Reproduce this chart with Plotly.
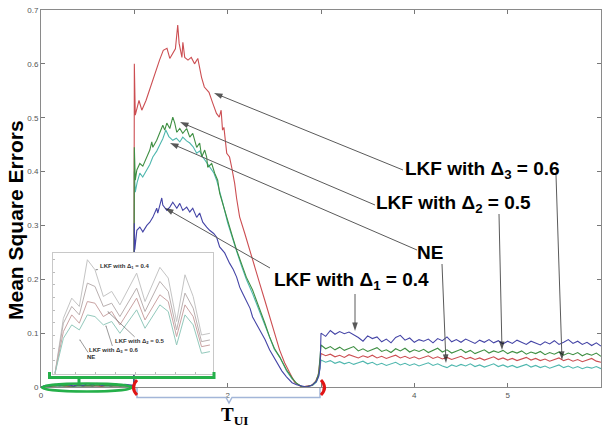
import plotly.graph_objects as go

# ---------------- data ----------------
pre_t = [0.0, 0.05, 0.10, 0.15, 0.20, 0.25, 0.30, 0.35, 0.40, 0.45, 0.50,
         0.55, 0.60, 0.65, 0.70, 0.75, 0.80, 0.85, 0.90, 0.95, 0.995]
tail_t = [3.00, 3.05, 3.10, 3.15, 3.20, 3.25, 3.30, 3.35, 3.40, 3.45,
          3.50, 3.55, 3.60, 3.65, 3.70, 3.75, 3.80, 3.85, 3.90, 3.95,
          4.00, 4.05, 4.10, 4.15, 4.20, 4.25, 4.30, 4.35, 4.40, 4.45,
          4.50, 4.55, 4.60, 4.65, 4.70, 4.75, 4.80, 4.85, 4.90, 4.95,
          5.00, 5.05, 5.10, 5.15, 5.20, 5.25, 5.30, 5.35, 5.40, 5.45,
          5.50, 5.55, 5.60, 5.65, 5.70, 5.75, 5.80, 5.85, 5.90, 5.95, 6.00]

# LKF with Delta1 = 0.4 (blue)
blue_pre = [0.000, 0.003, 0.002, 0.005, 0.003, 0.006, 0.004, 0.002, 0.005, 0.003, 0.006,
            0.004, 0.007, 0.003, 0.005, 0.004, 0.006, 0.003, 0.005, 0.004, 0.003]
blue_hx = [1.00, 1.005, 1.027, 1.059, 1.091, 1.134, 1.166, 1.198, 1.24, 1.251,
           1.294, 1.305, 1.348, 1.38, 1.412, 1.455, 1.487, 1.519, 1.561, 1.594,
           1.626, 1.668, 1.70, 1.733, 1.775, 1.807, 1.85, 1.882, 1.914, 1.968,
           2.02, 2.06, 2.096, 2.13, 2.16, 2.214, 2.24, 2.267, 2.30, 2.342,
           2.40, 2.449, 2.50, 2.535, 2.58, 2.63, 2.69, 2.738, 2.80, 2.845,
           2.90, 2.95, 2.975, 2.99]
blue_hy = [0.304, 0.255, 0.291, 0.297, 0.288, 0.300, 0.306, 0.315, 0.332, 0.323,
           0.351, 0.338, 0.328, 0.334, 0.343, 0.332, 0.341, 0.328, 0.334, 0.325,
           0.332, 0.315, 0.323, 0.306, 0.297, 0.291, 0.285, 0.278, 0.260, 0.249,
           0.230, 0.218, 0.204, 0.185, 0.174, 0.156, 0.146, 0.130, 0.120, 0.106,
           0.088, 0.069, 0.054, 0.045, 0.030, 0.019, 0.008, 0.004, 0.001, 0.000,
           0.003, 0.010, 0.020, 0.035]
blue_tail = [0.100, 0.094, 0.105, 0.098, 0.103, 0.099, 0.102, 0.097, 0.092, 0.085,
             0.095, 0.090, 0.093, 0.084, 0.089, 0.082, 0.092, 0.096, 0.087, 0.091,
             0.083, 0.088, 0.085, 0.089, 0.082, 0.090, 0.086, 0.093, 0.084, 0.088,
             0.083, 0.089, 0.085, 0.081, 0.087, 0.083, 0.088, 0.082, 0.086, 0.080,
             0.085, 0.081, 0.087, 0.083, 0.079, 0.085, 0.082, 0.078, 0.084, 0.080,
             0.086, 0.079, 0.083, 0.088, 0.081, 0.085, 0.079, 0.083, 0.077, 0.082, 0.076]

# LKF with Delta2 = 0.5 (green)
green_pre = [0.000, 0.002, 0.001, 0.003, 0.002, 0.003, 0.002, 0.001, 0.003, 0.002, 0.003,
             0.002, 0.004, 0.002, 0.003, 0.002, 0.003, 0.002, 0.003, 0.002, 0.002]
green_hx = [1.00, 1.01, 1.027, 1.059, 1.091, 1.134, 1.166, 1.187, 1.198, 1.24,
            1.273, 1.305, 1.326, 1.348, 1.38, 1.412, 1.433, 1.455, 1.487, 1.519,
            1.561, 1.594, 1.626, 1.668, 1.70, 1.722, 1.754, 1.775, 1.786, 1.829,
            1.861, 1.893, 1.914, 1.95, 1.98, 2.02, 2.05, 2.096, 2.15, 2.2,
            2.267, 2.30, 2.342, 2.40, 2.449, 2.50, 2.556, 2.63, 2.69, 2.738,
            2.80, 2.86, 2.91, 2.95, 2.975]
green_hy = [0.445, 0.384, 0.403, 0.415, 0.410, 0.427, 0.440, 0.455, 0.445, 0.458,
            0.471, 0.486, 0.477, 0.490, 0.480, 0.501, 0.490, 0.473, 0.480, 0.471,
            0.480, 0.464, 0.471, 0.445, 0.453, 0.427, 0.440, 0.427, 0.408, 0.415,
            0.397, 0.384, 0.360, 0.338, 0.322, 0.297, 0.280, 0.254, 0.228, 0.204,
            0.180, 0.165, 0.143, 0.118, 0.093, 0.072, 0.056, 0.032, 0.017, 0.007,
            0.000, 0.001, 0.004, 0.012, 0.025]
green_tail = [0.078, 0.071, 0.075, 0.069, 0.074, 0.068, 0.072, 0.075, 0.067, 0.071,
              0.066, 0.070, 0.073, 0.066, 0.069, 0.064, 0.071, 0.067, 0.072, 0.065,
              0.069, 0.066, 0.070, 0.064, 0.068, 0.072, 0.065, 0.069, 0.063, 0.067,
              0.070, 0.064, 0.068, 0.062, 0.066, 0.069, 0.063, 0.067, 0.064, 0.068,
              0.062, 0.066, 0.063, 0.067, 0.061, 0.065, 0.062, 0.066, 0.060, 0.064,
              0.061, 0.065, 0.059, 0.063, 0.060, 0.064, 0.058, 0.062, 0.059, 0.063, 0.057]

# LKF with Delta3 = 0.6 (red)
red_pre = [0.000, 0.002, 0.001, 0.002, 0.003, 0.002, 0.001, 0.002, 0.003, 0.002, 0.002,
           0.003, 0.002, 0.001, 0.003, 0.002, 0.002, 0.003, 0.002, 0.002, 0.002]
red_hx = [1.00, 1.01, 1.05, 1.08, 1.125, 1.16, 1.20, 1.24, 1.27, 1.31,
          1.35, 1.38, 1.41, 1.44, 1.465, 1.48, 1.51, 1.52, 1.54, 1.575,
          1.61, 1.645, 1.68, 1.72, 1.75, 1.80, 1.84, 1.88, 1.91, 1.93,
          1.945, 1.96, 1.99, 2.02, 2.043, 2.075, 2.096, 2.128, 2.182, 2.235,
          2.289, 2.342, 2.396, 2.45, 2.503, 2.556, 2.61, 2.663, 2.717, 2.79,
          2.85, 2.90, 2.94, 2.97]
red_hy = [0.600, 0.505, 0.532, 0.514, 0.532, 0.551, 0.570, 0.594, 0.607, 0.625,
          0.629, 0.610, 0.620, 0.628, 0.672, 0.638, 0.612, 0.640, 0.612, 0.607,
          0.612, 0.600, 0.610, 0.575, 0.557, 0.547, 0.527, 0.508, 0.501, 0.514,
          0.477, 0.482, 0.434, 0.427, 0.408, 0.378, 0.350, 0.316, 0.286, 0.254,
          0.223, 0.193, 0.162, 0.130, 0.100, 0.069, 0.045, 0.026, 0.009, 0.000,
          0.001, 0.003, 0.010, 0.022]
red_tail = [0.062, 0.058, 0.061, 0.056, 0.059, 0.055, 0.060, 0.057, 0.054, 0.058,
            0.055, 0.059, 0.054, 0.057, 0.053, 0.056, 0.059, 0.054, 0.057, 0.053,
            0.056, 0.052, 0.055, 0.058, 0.053, 0.056, 0.052, 0.055, 0.051, 0.054,
            0.057, 0.052, 0.055, 0.051, 0.054, 0.050, 0.053, 0.056, 0.051, 0.054,
            0.050, 0.053, 0.049, 0.052, 0.055, 0.050, 0.053, 0.049, 0.052, 0.048,
            0.051, 0.054, 0.049, 0.052, 0.048, 0.051, 0.047, 0.050, 0.053, 0.048, 0.046]

# NE (cyan)
cyan_pre = [0.000, 0.001, 0.002, 0.001, 0.002, 0.001, 0.002, 0.001, 0.002, 0.001, 0.002,
            0.001, 0.002, 0.001, 0.002, 0.001, 0.002, 0.001, 0.002, 0.001, 0.001]
cyan_hx = [1.00, 1.01, 1.03, 1.059, 1.09, 1.134, 1.166, 1.198, 1.24, 1.273,
           1.305, 1.337, 1.37, 1.412, 1.45, 1.487, 1.519, 1.56, 1.594, 1.63,
           1.668, 1.70, 1.733, 1.77, 1.807, 1.85, 1.882, 1.914, 1.95, 2.00,
           2.05, 2.10, 2.15, 2.20, 2.27, 2.34, 2.40, 2.45, 2.50, 2.56,
           2.63, 2.69, 2.74, 2.80, 2.86, 2.91, 2.95, 2.975]
cyan_hy = [0.400, 0.362, 0.380, 0.397, 0.390, 0.402, 0.413, 0.427, 0.438, 0.450,
           0.461, 0.477, 0.465, 0.458, 0.462, 0.455, 0.464, 0.457, 0.453, 0.446,
           0.434, 0.438, 0.427, 0.418, 0.408, 0.398, 0.384, 0.365, 0.340, 0.305,
           0.276, 0.250, 0.224, 0.200, 0.172, 0.140, 0.113, 0.090, 0.070, 0.055,
           0.030, 0.015, 0.006, 0.000, 0.001, 0.003, 0.009, 0.020]
cyan_tail = [0.050, 0.046, 0.049, 0.044, 0.047, 0.043, 0.046, 0.042, 0.045, 0.048,
             0.043, 0.046, 0.041, 0.044, 0.040, 0.043, 0.046, 0.041, 0.044, 0.040,
             0.043, 0.039, 0.042, 0.045, 0.040, 0.043, 0.039, 0.036, 0.041, 0.038,
             0.042, 0.039, 0.043, 0.038, 0.041, 0.037, 0.040, 0.043, 0.038, 0.041,
             0.037, 0.040, 0.036, 0.039, 0.042, 0.037, 0.040, 0.036, 0.039, 0.035,
             0.038, 0.041, 0.036, 0.039, 0.035, 0.038, 0.034, 0.037, 0.035, 0.038, 0.034]

# inset (zoom of 0..1, values normalised)
inset_t = [0.0, 0.054, 0.108, 0.157, 0.209, 0.258, 0.312, 0.366, 0.419,
           0.527, 0.581, 0.677, 0.731, 0.785, 0.839, 0.892, 0.946, 1.0]
inset_d1 = [0, 0.458, 0.625, 0.556, 0.944, 0.861, 0.639, 0.681, 0.569,
            0.833, 0.597, 0.881, 0.792, 0.431, 0.819, 0.639, 0.319, 0.333]
inset_d2 = [0, 0.417, 0.556, 0.486, 0.750, 0.722, 0.556, 0.583, 0.472,
            0.708, 0.514, 0.764, 0.681, 0.361, 0.667, 0.542, 0.264, 0.278]
inset_d3 = [0, 0.347, 0.486, 0.417, 0.597, 0.583, 0.472, 0.514, 0.403,
            0.625, 0.444, 0.653, 0.597, 0.306, 0.569, 0.472, 0.222, 0.236]
inset_ne = [0, 0.292, 0.403, 0.361, 0.486, 0.472, 0.403, 0.431, 0.333,
            0.528, 0.375, 0.569, 0.514, 0.236, 0.486, 0.403, 0.167, 0.181]

x_ticks = [0, 2, 4, 5]
x_ticktext = ['0', '2', '4', '5']
x_minor_ticks = [1, 3, 6]
y_ticks = [0, 0.1, 0.2, 0.3, 0.4, 0.5, 0.6, 0.7]
y_ticktext = ['0', '0.1', '0.2', '0.3', '0.4', '0.5', '0.6', '0.7']

# ---------------- layout geometry ----------------
W, H = 602, 430
ML, MR, MT, MB = 41, 1, 10, 43
PW, PH = W - ML - MR, H - MT - MB
XR, YR = [0, 6], [0, 0.7]


def px(p):
    return (p - ML) / PW


def py(p):
    return (H - MB - p) / PH


def dx(p):
    return XR[0] + px(p) * (XR[1] - XR[0])


def dy(p):
    return YR[0] + py(p) * (YR[1] - YR[0])


C_BLUE = '#4444a6'
C_GREEN = '#3f8f43'
C_RED = '#cc4e52'
C_CYAN = '#4fb7ae'

fig = go.Figure()

series = [
    ('NE', cyan_pre, cyan_hx, cyan_hy, cyan_tail, C_CYAN),
    ('LKF d3', red_pre, red_hx, red_hy, red_tail, C_RED),
    ('LKF d2', green_pre, green_hx, green_hy, green_tail, C_GREEN),
    ('LKF d1', blue_pre, blue_hx, blue_hy, blue_tail, C_BLUE),
]
for name, pre, hx, hy, tail, col in series:
    fig.add_trace(go.Scatter(
        x=pre_t + hx + tail_t, y=pre + hy + tail, mode='lines', name=name,
        line=dict(color=col, width=1.1), showlegend=False, hoverinfo='skip'))

# annotation arrows (tail -> head), positions in screen pixels
arrows = [
    ((403, 170), (214, 93)), ((556, 175), (562, 360)),
    ((375, 205), (180, 122)), ((499, 214), (502, 350)),
    ((417, 250), (170, 143)), ((442, 264), (446, 363)),
    ((270, 268), (165, 208)), ((355, 294), (355, 331)),
]
for (tx_, ty_), (hx_, hy_) in arrows:
    fig.add_trace(go.Scatter(
        x=[dx(tx_), dx(hx_)], y=[dy(ty_), dy(hy_)], mode='lines+markers',
        line=dict(color='#5a5a5a', width=1),
        marker=dict(symbol='arrow', size=[0, 9], color='#111', angleref='previous',
                    line=dict(width=0)),
        showlegend=False, hoverinfo='skip'))

inset_cols = ['#c4c4c4', '#b9b0b0', '#c9a3a3', '#93c9bc']
for ys, col in zip([inset_d1, inset_d2, inset_d3, inset_ne], inset_cols):
    fig.add_trace(go.Scatter(x=inset_t, y=ys, mode='lines', xaxis='x2', yaxis='y2',
                             line=dict(color=col, width=1), showlegend=False,
                             hoverinfo='skip'))

axis_common = dict(showline=True, linecolor='#8a8a8a', linewidth=1, mirror='ticks',
                   ticks='inside', ticklen=4, tickcolor='#777', showgrid=False,
                   zeroline=False, tickfont=dict(family='Liberation Sans, Arial', size=8,
                                                 color='#555'))
fig.update_layout(
    width=W, height=H,
    margin=dict(l=ML, r=MR, t=MT, b=MB),
    paper_bgcolor='white', plot_bgcolor='white',
    xaxis=dict(range=XR, domain=[0, 1], tickvals=x_ticks, ticktext=x_ticktext,
               minor=dict(tickvals=x_minor_ticks, ticks='inside', ticklen=4,
                          tickcolor='#777', showgrid=False),
               **axis_common),
    yaxis=dict(range=YR, domain=[0, 1], tickvals=y_ticks, ticktext=y_ticktext,
               **axis_common),
    xaxis2=dict(domain=[px(53), px(213)], anchor='y2', range=[-0.013, 1.02],
                showline=True, linecolor='#c8c8c8', mirror=True, ticks='inside',
                ticklen=2, tickcolor='#bbb', tick0=0, dtick=0.13,
                showticklabels=False, showgrid=False, zeroline=False),
    yaxis2=dict(domain=[py(374), py(253)], anchor='x2', range=[-0.005, 1.0],
                showline=True, linecolor='#c8c8c8', mirror=True, ticks='inside',
                ticklen=2, tickcolor='#bbb', tick0=0, dtick=0.105,
                showticklabels=False, showgrid=False, zeroline=False),
)

# ---------------- shapes ----------------
def path(points):
    return 'M ' + ' L '.join(f'{px(a):.5f},{py(b):.5f}' for a, b in points)


GREEN = '#25b04a'
RED = '#e01515'
shapes = [
    dict(type='circle', xref='paper', yref='paper', x0=px(42), x1=px(132),
         y0=py(391.5), y1=py(383.5), line=dict(color=GREEN, width=2.5)),
    dict(type='path', xref='paper', yref='paper',
         path=path([(49.5, 372), (49.5, 377.5), (214, 377.5), (214, 372)]),
         line=dict(color=GREEN, width=3)),
    dict(type='path', xref='paper', yref='paper',
         path=path([(79, 377.5), (79, 384)]), line=dict(color=GREEN, width=3)),
    dict(type='path', xref='paper', yref='paper',
         path=path([(137, 388), (137, 397.5), (226, 397.5), (229, 403),
                    (232, 397.5), (320, 397.5), (320, 388)]),
         line=dict(color='#a3b6d8', width=1.5)),
    dict(type='path', xref='paper', yref='paper',
         path=f'M {px(137):.5f},{py(380):.5f} Q {px(130):.5f},{py(387.5):.5f} {px(137):.5f},{py(395):.5f}',
         line=dict(color=RED, width=3)),
    dict(type='path', xref='paper', yref='paper',
         path=f'M {px(321):.5f},{py(380):.5f} Q {px(328):.5f},{py(387.5):.5f} {px(321):.5f},{py(395):.5f}',
         line=dict(color=RED, width=3)),
]
fig.update_layout(shapes=shapes)

# ---------------- annotations ----------------
LBL = dict(family='Liberation Sans, Arial', size=19, color='black')
ann = []
labels = [
    ('LKF with Δ<sub>3</sub> = 0.6', 482, 170),
    ('LKF with Δ<sub>2</sub> = 0.5', 453, 204),
    ('NE', 430, 252),
    ('LKF with Δ<sub>1</sub> = 0.4', 351, 281),
]
for txt, cx, cy in labels:
    ann.append(dict(text=f'<b>{txt}</b>', xref='paper', yref='paper', x=px(cx), y=py(cy),
                    showarrow=False, font=LBL, xanchor='center', yanchor='middle'))

# y title
ann.append(dict(text='<b>Mean Square Errors</b>', xref='paper', yref='paper',
                x=px(15), y=py(220), textangle=-90, showarrow=False,
                font=dict(family='Liberation Sans, Arial', size=21, color='black'),
                xanchor='center', yanchor='middle'))
# T_UI
ann.append(dict(text='<b>T<sub>UI</sub></b>', xref='paper', yref='paper',
                x=px(234), y=py(416), showarrow=False,
                font=dict(family='Liberation Serif, Times New Roman', size=19, color='black'),
                xanchor='center', yanchor='middle'))

# inset labels
IL = dict(family='Liberation Sans, Arial', size=6, color='#333')
inset_labels = [
    ('LKF with Δ<sub>1</sub> = 0.4', 0.265, 0.861, 28, -3),
    ('LKF with Δ<sub>2</sub> = 0.5', 0.342, 0.511, 32, 30),
    ('LKF with Δ<sub>3</sub> = 0.6', 0.329, 0.394, 8, 25),
    ('NE', 0.161, 0.278, 11, 17),
]
for txt, ix, iy, ddx, ddy in inset_labels:
    ann.append(dict(text=f'<b>{txt}</b>', xref='x2', yref='y2', x=ix, y=iy,
                    ax=ddx, ay=ddy, showarrow=True, arrowhead=6, arrowsize=0.4,
                    arrowwidth=0.6, arrowcolor='#555', font=IL, standoff=0))

fig.update_layout(annotations=ann)

fig.write_html('out.html', config={'displayModeBar': False},
               post_script="document.body.style.margin='0';")
